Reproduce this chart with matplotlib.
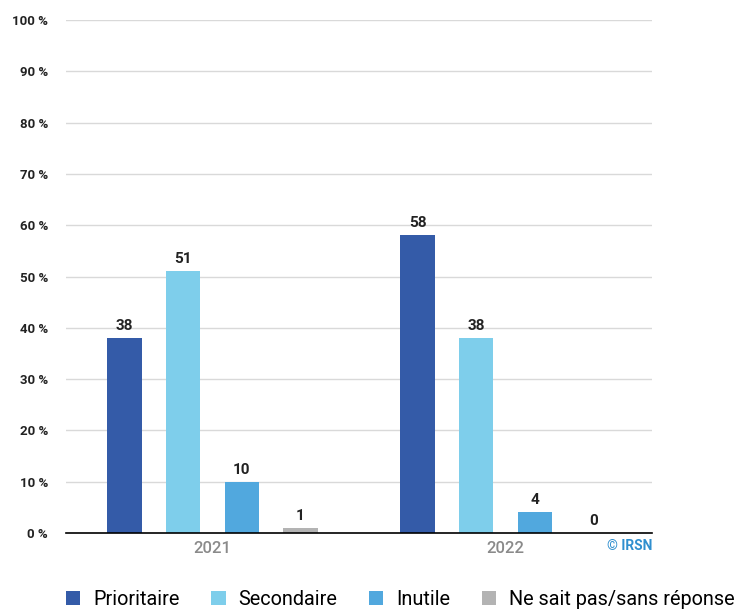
import numpy as np
import matplotlib.pyplot as plt

plt.rcParams['font.family'] = ['Roboto', 'DejaVu Sans']

years = ['2021', '2022']
categories = ['Prioritaire', 'Secondaire', 'Inutile', 'Ne sait pas/sans réponse']
values = {
    'Prioritaire': [38, 58],
    'Secondaire': [51, 38],
    'Inutile': [10, 4],
    'Ne sait pas/sans réponse': [1, 0],
}
colors = ['#345BA8', '#7ECEEB', '#51A8DE', '#B3B3B3']

fig = plt.figure(figsize=(7.45, 6.1), dpi=100)
ax = fig.add_axes([66 / 745, 1 - 533 / 610, 586 / 745, 513 / 610])

x = np.arange(len(years))
offsets = [-0.3, -0.1, 0.1, 0.3]
width = 0.117
for cat, off, col in zip(categories, offsets, colors):
    rects = ax.bar(x + off, values[cat], width, color=col, label=cat, zorder=3)
    for rect, v in zip(rects, values[cat]):
        ax.text(rect.get_x() + rect.get_width() / 2, v + 1, str(v),
                ha='center', va='bottom', fontsize=11, fontweight='bold', color='#222222')

ax.set_xlim(-0.5, 1.5)
ax.set_ylim(0, 100)
ax.set_yticks(range(0, 101, 10))
ax.set_yticklabels([f'{t} %' for t in range(0, 101, 10)], fontsize=9.5, fontweight='bold', color='#222222')
ax.set_xticks(x)
ax.set_xticklabels(years, fontsize=12, fontweight='medium', color='#8a8a8a')
ax.tick_params(axis='both', length=0)
ax.tick_params(axis='y', pad=13)
ax.tick_params(axis='x', pad=6)
ax.grid(axis='y', color='#d9d9d9', linewidth=1, zorder=0)
for s in ['top', 'right', 'left']:
    ax.spines[s].set_visible(False)
ax.spines['bottom'].set_color('black')
ax.spines['bottom'].set_linewidth(1.2)
ax.spines['bottom'].set_zorder(4)

ax.text(1.0, -0.012, '© IRSN', transform=ax.transAxes, ha='right', va='top',
        fontsize=10, fontweight='bold', color='#2F8FCF')

fig.legend(loc='lower left', bbox_to_anchor=(48 / 745, -0.028), ncol=4, frameon=False,
           fontsize=14.3, handlelength=0.72, handleheight=0.72, handletextpad=0.65,
           columnspacing=1.6)

fig.savefig('out.png', dpi=100)
